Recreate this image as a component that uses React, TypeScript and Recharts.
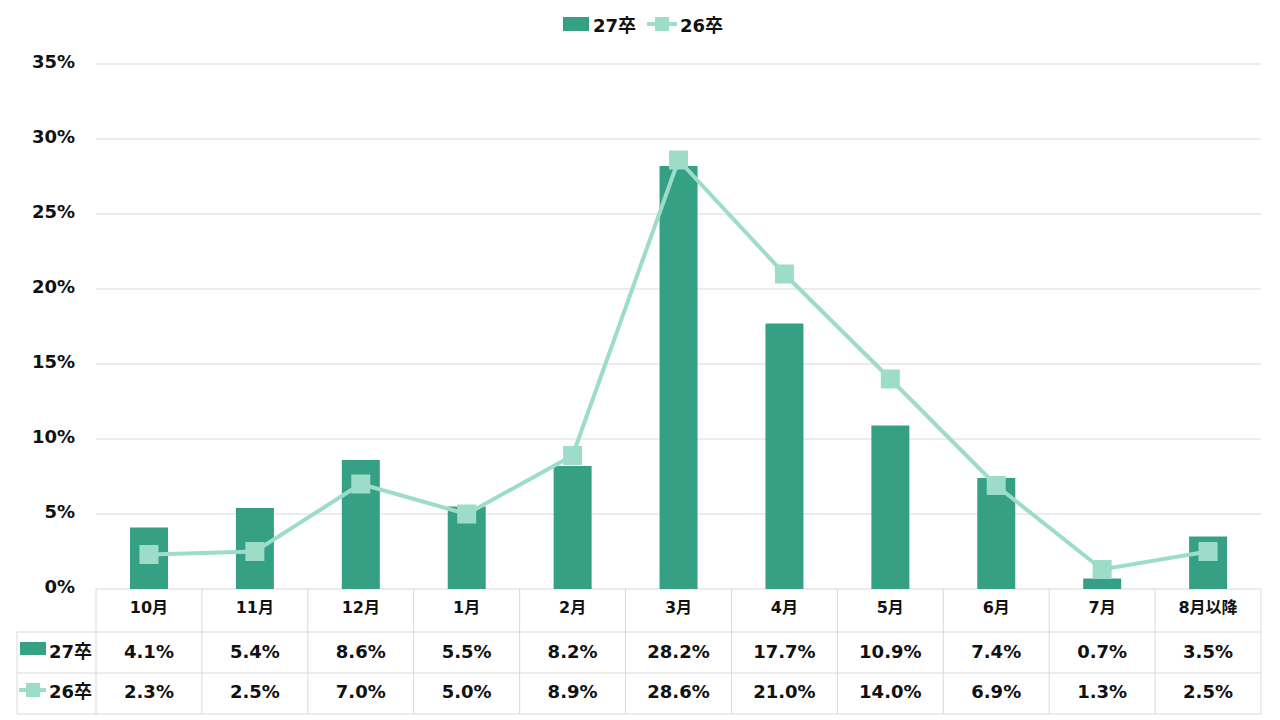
import React from "react";
import {
  ComposedChart,
  Bar,
  Line,
  XAxis,
  YAxis,
  CartesianGrid,
} from "recharts";

const months = ["10月", "11月", "12月", "1月", "2月", "3月", "4月", "5月", "6月", "7月", "8月以降"];
const grad27 = [4.1, 5.4, 8.6, 5.5, 8.2, 28.2, 17.7, 10.9, 7.4, 0.7, 3.5];
const grad26 = [2.3, 2.5, 7.0, 5.0, 8.9, 28.6, 21.0, 14.0, 6.9, 1.3, 2.5];
const yTicks = [0, 5, 10, 15, 20, 25, 30, 35];

const data = months.map((m, i) => ({ month: m, v27: grad27[i], v26: grad26[i] }));

const BAR = "#36a085";
const LINE = "#9ddcc9";
const GRID = "#d9d9d9";
const TEXT = "#111";
const FONT = "'DejaVu Sans', 'Noto Sans CJK JP', sans-serif";

const W = 1280;
const H = 720;
const PLOT_LEFT = 96;
const PLOT_RIGHT = 1261;
const PLOT_BOTTOM = 589;
const ROW1 = 632;
const ROW2 = 673;
const ROW3 = 714;
const TABLE_LEFT = 17;
const BAND = (PLOT_RIGHT - PLOT_LEFT) / months.length;

function SquareDot(props: any) {
  const { cx, cy } = props;
  if (cx == null || cy == null) return null;
  return <rect x={cx - 9.5} y={cy - 9.5} width={19} height={19} fill={LINE} />;
}

function TableTick(props: any) {
  const { x, index } = props;
  const l = x - BAND / 2;
  const r = x + BAND / 2;
  const last = index === months.length - 1;
  const txt = { fontFamily: FONT, fontWeight: 700, fontSize: 18, fill: TEXT, textAnchor: "middle" as const };
  return (
    <g>
      <line x1={l} x2={l} y1={PLOT_BOTTOM} y2={ROW3} stroke={GRID} />
      {last && <line x1={r} x2={r} y1={PLOT_BOTTOM} y2={ROW3} stroke={GRID} />}
      <line x1={l} x2={r} y1={ROW1} y2={ROW1} stroke={GRID} />
      <line x1={l} x2={r} y1={ROW2} y2={ROW2} stroke={GRID} />
      <line x1={l} x2={r} y1={ROW3} y2={ROW3} stroke={GRID} />
      <text x={x} y={613} {...txt} fontSize={16}>{months[index]}</text>
      <text x={x} y={658} {...txt}>{grad27[index].toFixed(1)}%</text>
      <text x={x} y={698} {...txt}>{grad26[index].toFixed(1)}%</text>
      {index === 0 && (
        <g>
          <line x1={TABLE_LEFT} x2={l} y1={ROW1} y2={ROW1} stroke={GRID} />
          <line x1={TABLE_LEFT} x2={l} y1={ROW2} y2={ROW2} stroke={GRID} />
          <line x1={TABLE_LEFT} x2={l} y1={ROW3} y2={ROW3} stroke={GRID} />
          <line x1={TABLE_LEFT} x2={TABLE_LEFT} y1={ROW1} y2={ROW3} stroke={GRID} />
          <rect x={20} y={642} width={26} height={13} fill={BAR} />
          <text x={49} y={658} {...txt} textAnchor="start">27卒</text>
          <line x1={19} x2={46} y1={690} y2={690} stroke={LINE} strokeWidth={4} />
          <rect x={26} y={683} width={14} height={14} fill={LINE} />
          <text x={49} y={698} {...txt} textAnchor="start">26卒</text>
        </g>
      )}
    </g>
  );
}

function TopLegend() {
  const txt: React.CSSProperties = { fontFamily: FONT, fontWeight: 700, fontSize: 18, color: TEXT };
  return (
    <div
      style={{
        position: "absolute",
        top: 11,
        left: 3,
        width: W,
        display: "flex",
        justifyContent: "center",
        alignItems: "center",
      }}
    >
      <svg width={26} height={14} style={{ marginRight: 4 }}>
        <rect x={0} y={0} width={26} height={14} fill={BAR} />
      </svg>
      <span style={{ ...txt, marginRight: 11 }}>27卒</span>
      <svg width={30} height={14} style={{ marginRight: 3 }}>
        <line x1={0} x2={30} y1={7} y2={7} stroke={LINE} strokeWidth={4} />
        <rect x={8} y={0} width={14} height={14} fill={LINE} />
      </svg>
      <span style={txt}>26卒</span>
    </div>
  );
}

export default function App() {
  return (
    <div style={{ position: "absolute", left: 0, top: 0, width: W, height: H, background: "#fff" }}>
      <ComposedChart
        width={W}
        height={H}
        data={data}
        margin={{ top: 64, right: W - PLOT_RIGHT, bottom: 0, left: 16 }}
      >
        <CartesianGrid vertical={false} stroke={GRID} />
        <XAxis
          dataKey="month"
          height={H - PLOT_BOTTOM}
          axisLine={false}
          tickLine={false}
          interval={0}
          tick={<TableTick />}
        />
        <YAxis
          width={PLOT_LEFT - 16}
          domain={[0, 35]}
          ticks={yTicks}
          axisLine={false}
          tickLine={false}
          tickSize={0}
          tickMargin={21}
          tickFormatter={(v: number) => `${v}%`}
          tick={{ fontFamily: FONT, fontWeight: 700, fontSize: 18, fill: TEXT, dy: -2 }}
        />
        <Bar dataKey="v27" fill={BAR} barSize={38} isAnimationActive={false} />
        <Line
          type="linear"
          dataKey="v26"
          stroke={LINE}
          strokeWidth={4}
          dot={<SquareDot />}
          activeDot={false}
          isAnimationActive={false}
        />
      </ComposedChart>
      <TopLegend />
    </div>
  );
}
